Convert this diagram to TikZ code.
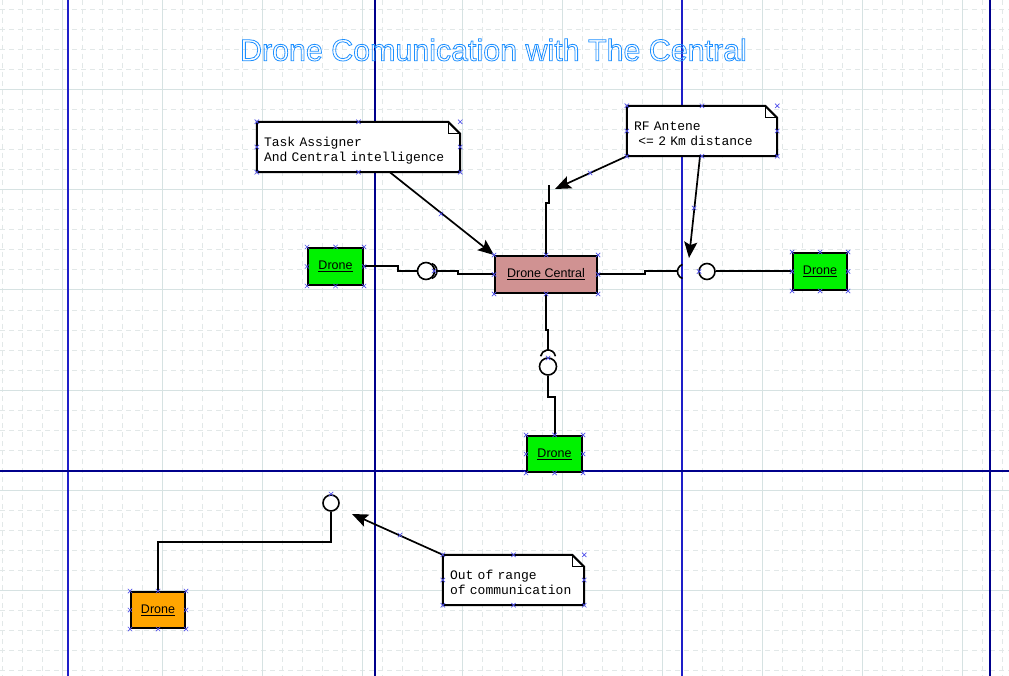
\documentclass[tikz,border=0pt]{standalone}
\usepackage{fontspec}
\setmainfont{Liberation Sans}
\setsansfont{Liberation Sans}
\setmonofont{Liberation Mono}
\usetikzlibrary{arrows.meta}
\definecolor{gridc}{RGB}{214,226,226}
\definecolor{gridd}{RGB}{226,232,232}
\definecolor{guideA}{RGB}{30,30,200}
\definecolor{guideB}{RGB}{0,0,140}
\definecolor{titleblue}{RGB}{30,144,255}
\definecolor{dronegreen}{RGB}{0,242,0}
\definecolor{centralpink}{RGB}{208,146,146}
\definecolor{droneorange}{RGB}{255,165,0}
\definecolor{handlec}{RGB}{80,80,235}
\pgfdeclarelayer{gridlayer}
\pgfdeclarelayer{notelayer}
\pgfsetlayers{gridlayer,notelayer,main}
\newcommand\boxhandles[1]{%
  \foreach \a in {north west,north,north east,east,south east,south,south west,west}{%
    \draw[handle] (#1.\a) ++(-2.2,-2.2) -- ++(4.4,4.4) ++(-4.4,0) -- ++(4.4,-4.4);}}
\newcommand\pointhandle[1]{%
  \draw[handle] (#1) ++(-2.2,-2.2) -- ++(4.4,4.4) ++(-4.4,0) -- ++(4.4,-4.4);}
\newcommand\dogear[1]{%
  \begin{pgfonlayer}{notelayer}
  \draw[noteline] (#1.north west) -- ([xshift=-12pt]#1.north east) -- ([yshift=-12pt]#1.north east) -- (#1.south east) -- (#1.south west) -- cycle;
  \draw[foldline] ([xshift=-12pt]#1.north east) |- ([yshift=-12pt]#1.north east);
  \end{pgfonlayer}}
\newcommand\outlinetext[1]{%
  \special{pdf:literal direct q 1 Tr 0.8 w 0.118 0.565 1 RG}#1\special{pdf:literal direct Q}}
\begin{document}
\begin{tikzpicture}[x=1pt,y=-1pt,
  minorgrid/.style={gridd, line width=1pt, dash pattern=on 5pt off 4pt},
  majorgrid/.style={gridc, line width=1pt},
  guidea/.style={guideA, line width=1.2pt},
  guideb/.style={guideB, line width=1.2pt},
  boxbase/.style={draw=black, line width=2pt, rectangle, inner sep=0pt,
    font=\sffamily\fontsize{12.5}{14}\selectfont},
  drone/.style={boxbase, fill=dronegreen, minimum width=55pt, minimum height=37pt},
  central/.style={boxbase, fill=centralpink, minimum width=102pt, minimum height=37pt},
  orangedrone/.style={boxbase, fill=droneorange, minimum width=54pt, minimum height=36pt},
  note/.style={rectangle, draw=none, inner xsep=7pt, inner ysep=0pt, minimum height=50pt,
    align=left, font=\ttfamily\fontsize{13}{15.5}\selectfont},
  noteline/.style={draw=black, line width=2pt, fill=white, line join=miter},
  foldline/.style={draw=black, line width=1pt},
  conn/.style={draw=black, line width=2pt},
  ball/.style={circle, draw=black, line width=1.6pt, fill=white, inner sep=0pt},
  socket/.style={draw=black, line width=1.6pt},
  arr/.style={draw=black, line width=1.7pt, -{Stealth[length=16pt, width=13pt, inset=3pt]}},
  handle/.style={draw=handlec, line width=0.7pt},
  titlestyle/.style={font=\sffamily\fontsize{30.4}{34}\selectfont, text=titleblue, inner sep=0pt, anchor=base}
]
\useasboundingbox (0,0) rectangle (1009,676);
\begin{pgfonlayer}{gridlayer}
  \fill[white] (0,0) rectangle (1009,676);
  \foreach \x in {2,22,...,1002} \draw[minorgrid] (\x,0) -- (\x,676);
  \foreach \y in {10,30,...,670} \draw[minorgrid] (0,\y) -- (1009,\y);
  \foreach \x in {62,162,...,962} \draw[majorgrid] (\x,0) -- (\x,676);
  \foreach \y in {90,190,...,590} \draw[majorgrid] (0,\y) -- (1009,\y);
  \draw[guidea] (68,0) -- (68,676);
  \draw[guideb] (375,0) -- (375,676);
  \draw[guidea] (682,0) -- (682,676);
  \draw[guideb] (990,0) -- (990,676);
  \draw[guideb] (0,471) -- (1009,471);
\end{pgfonlayer}

% title
\node[titlestyle] (title) at (493.5,60.7) {\outlinetext{Drone Comunication with The Central}};

% boxes
\node[central] (dc) at (546,274.5) {\underline{Drone Central}};
\node[drone] (dl) at (335.5,266.5) {\underline{Drone}};
\node[drone, minimum width=54pt] (dr) at (820,271.5) {\underline{Drone}};
\node[drone, minimum height=36pt] (db) at (554.5,454) {\underline{Drone}};
\node[orangedrone] (do) at (158,610) {\underline{Drone}};

% notes
\node[note, minimum width=203pt, text width=189pt] (n1) at (358.5,147)
  {\raisebox{-4pt}[\height][\depth]{\begin{tabular}{@{}l@{}}Task Assigner\\And Central intelligence\end{tabular}}};
\node[note, minimum width=150pt, text width=136pt] (n2) at (702,131)
  {\raisebox{-4pt}[\height][\depth]{\begin{tabular}{@{}l@{}}RF Antene\\~<= 2 Km distance\end{tabular}}};
\node[note, minimum width=141pt, text width=127pt] (n3) at (513.5,580)
  {\raisebox{-4pt}[\height][\depth]{\begin{tabular}{@{}l@{}}Out of range\\of communication\end{tabular}}};
\dogear{n1}
\dogear{n2}
\dogear{n3}

% interfaces
\node[ball, minimum size=17pt] (bL) at (426,271) {};
\node[ball, minimum size=16pt] (bR) at (707,271.5) {};
\node[ball, minimum size=17pt] (bB) at (548,366.5) {};
\node[ball, minimum size=16pt] (bO) at (331,503) {};
\coordinate (sR) at (677.5,271.5);
\coordinate (sB) at (548,350);
\coordinate (ant) at (549,185);
\coordinate (anttip) at (555,189);
\coordinate (gap) at (689,258);
\coordinate (oortip) at (352,514);
\begin{scope}[shift={(429,271)}, y=1pt]
  \draw[socket] (70:8) arc[start angle=70, end angle=-70, radius=8];
\end{scope}
\begin{scope}[shift={(685,271.5)}, y=1pt]
  \draw[socket] (110:7.5) arc[start angle=110, end angle=250, radius=7.5];
\end{scope}
\begin{scope}[shift={(548,357.5)}, y=1pt]
  \draw[socket] (10:7.5) arc[start angle=10, end angle=170, radius=7.5];
\end{scope}

% connectors
\draw[conn] (dl.east) -- (398,266.5) |- (bL.west);
\draw[conn] ([xshift=2pt]bL.east) -| (458,274.5) -- (dc.west);
\draw[conn] (dc.east) -| (645,271.5) -- (sR);
\draw[conn] (bR.east) -- (dr.west);
\draw[conn] (dc.north) -- (546,203) -- (549,203) -- (ant);
\draw[conn] (dc.south) -- (546,330) -| (sB);
\draw[conn] (bB.south) -- (548,397) -| (db.north);
\draw[conn] (do.north) |- (331,542) -- (bO.south);

% arrows
\draw[arr] ([xshift=133pt]n1.south west) -- (dc.north west);
\draw[arr] (n2.south west) -- (anttip);
\draw[arr] ([xshift=-2pt]n2.south) -- (gap);
\draw[arr] (n3.north west) -- (oortip);

% selection handles
\boxhandles{dc}
\boxhandles{dl}
\boxhandles{dr}
\boxhandles{db}
\boxhandles{do}
\boxhandles{n1}
\boxhandles{n2}
\boxhandles{n3}
\pointhandle{434,271}
\pointhandle{699,271.5}
\pointhandle{548,358}
\pointhandle{331,494}
\pointhandle{441,214}
\pointhandle{590,173}
\pointhandle{694,208}
\pointhandle{400,535}
\end{tikzpicture}
\end{document}
